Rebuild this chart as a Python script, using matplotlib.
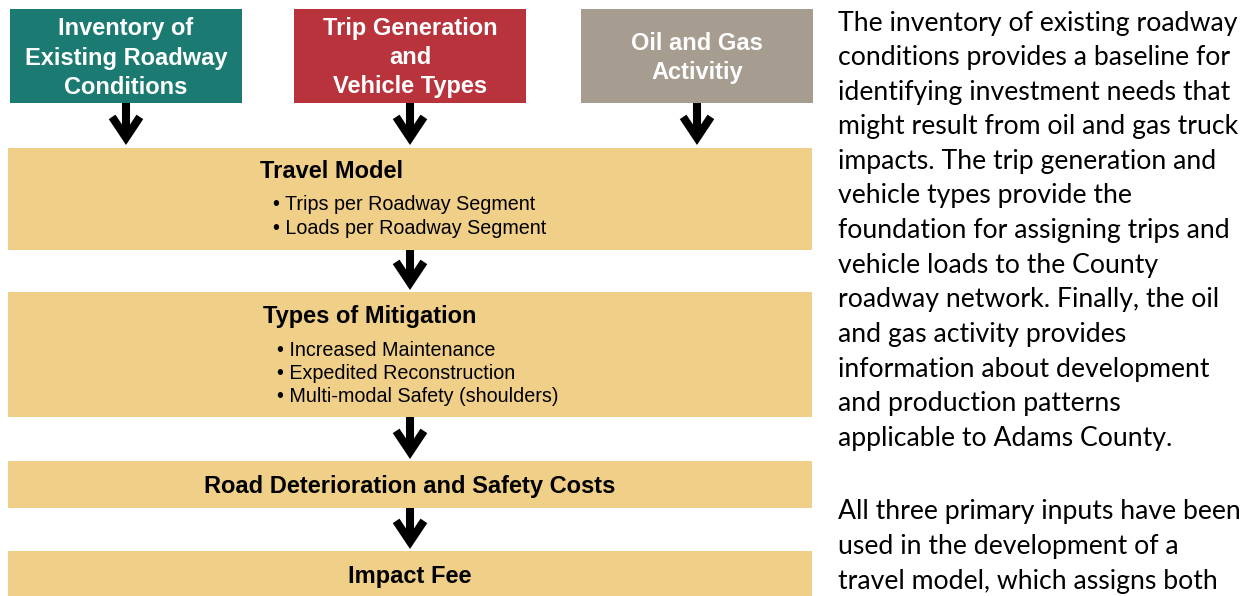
import matplotlib.pyplot as plt
from matplotlib.patches import Rectangle, FancyArrowPatch

# labels of the three input boxes
input_labels = [["Inventory of", "Existing Roadway", "Conditions"],
                ["Trip Generation", "and", "Vehicle Types"],
                ["Oil and Gas", "Activitiy"]]
input_colors = ["#1b7a72", "#b8333b", "#a69c8f"]

# the process steps
step_titles = ["Travel Model", "Types of Mitigation",
               "Road Deterioration and Safety Costs", "Impact Fee"]
step_bullets = [["Trips per Roadway Segment", "Loads per Roadway Segment"],
                ["Increased Maintenance", "Expedited Reconstruction",
                 "Multi-modal Safety (shoulders)"],
                [], []]

side_para1 = ["The inventory of existing roadway",
              "conditions provides a baseline for",
              "identifying investment needs that",
              "might result from oil and gas truck",
              "impacts. The trip generation and",
              "vehicle types provide the",
              "foundation for assigning trips and",
              "vehicle loads to the County",
              "roadway network. Finally, the oil",
              "and gas activity provides",
              "information about development",
              "and production patterns",
              "applicable to Adams County."]
side_para2 = ["All three primary inputs have been",
              "used in the development of a",
              "travel model, which assigns both"]

W, H = 1260, 596
fig = plt.figure(figsize=(W / 100, H / 100), dpi=100)
ax = fig.add_axes([0, 0, 1, 1])
ax.set_xlim(0, W)
ax.set_ylim(H, 0)
ax.axis('off')

sans = ["Liberation Sans", "DejaVu Sans"]
body = ["Lato", "DejaVu Sans"]
tan = "#f0cf88"

# top input boxes
box_x = [10, 294, 581]
box_w = 232
for i, (lines, col) in enumerate(zip(input_labels, input_colors)):
    ax.add_patch(Rectangle((box_x[i], 9), box_w, 94, color=col, lw=0))
    y0 = 58 - (len(lines) - 1) * 29 / 2
    for k, ln in enumerate(lines):
        ax.text(box_x[i] + box_w / 2, y0 + k * 29, ln, ha='center', va='center',
                color='white', fontsize=17, fontweight='bold', family=sans)

def arrow(x, y0, y1):
    # chevron-headed down arrow
    ax.add_patch(FancyArrowPatch((x, y0), (x, y1 - 1),
                                 arrowstyle='->,head_length=0.75,head_width=0.5',
                                 mutation_scale=20, lw=5.8, color='black',
                                 shrinkA=0, shrinkB=0, joinstyle='miter',
                                 capstyle='butt'))

for bx in box_x:
    arrow(bx + box_w / 2, 103, 146)

# step boxes: (top, height)
step_y = [(148, 102), (292, 125), (461, 47), (551, 50)]
for i, (y, h) in enumerate(step_y):
    ax.add_patch(Rectangle((8, y), 804, h, color=tan, lw=0))

# Travel Model
ax.text(260, 172, step_titles[0], ha='left', va='center', fontsize=17,
        fontweight='bold', family=sans)
for j, b in enumerate(step_bullets[0]):
    ax.text(273, 205 + j * 24, "\u2022 " + b, ha='left', va='center',
            fontsize=14.2, family=sans)

# Types of Mitigation
ax.text(263, 316, step_titles[1], ha='left', va='center', fontsize=17,
        fontweight='bold', family=sans)
for j, b in enumerate(step_bullets[1]):
    ax.text(277, 350 + j * 23.5, "\u2022 " + b, ha='left', va='center',
            fontsize=14.2, family=sans)

ax.text(410, 486, step_titles[2], ha='center', va='center', fontsize=17,
        fontweight='bold', family=sans)
ax.text(410, 577, step_titles[3], ha='center', va='center', fontsize=17,
        fontweight='bold', family=sans)

arrow(410, 250, 291)
arrow(410, 417, 460)
arrow(410, 508, 550)

# explanatory text on the right
for k, ln in enumerate(side_para1):
    ax.text(838, 23 + k * 34.6, ln, ha='left', va='center', fontsize=19.2, family=body)
for k, ln in enumerate(side_para2):
    ax.text(838, 512 + k * 34.6, ln, ha='left', va='center', fontsize=19.2, family=body)

fig.savefig("out.png", dpi=100, facecolor='white')
